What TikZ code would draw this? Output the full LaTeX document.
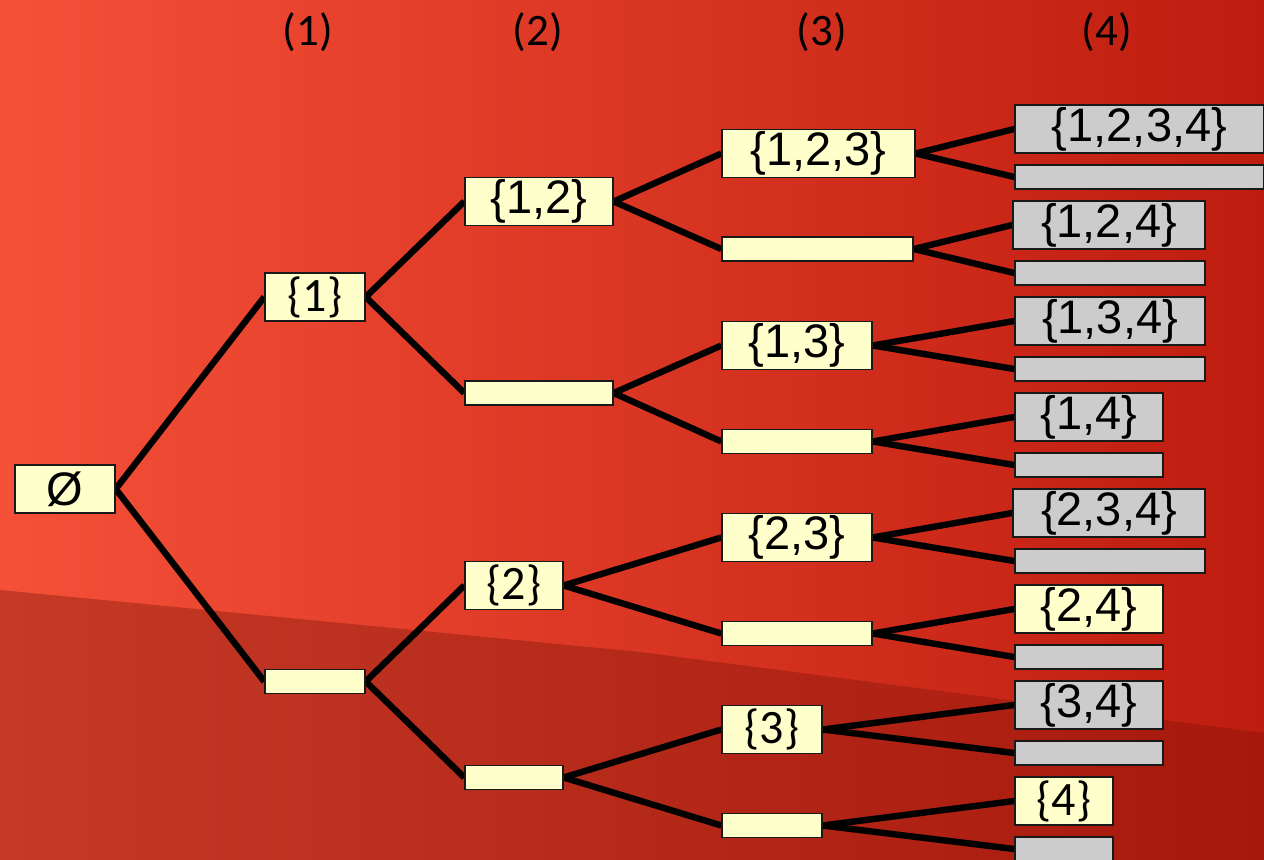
\documentclass[tikz,border=0pt]{standalone}
\usepackage{fontspec}
\setmainfont{Liberation Sans}
\newfontfamily\carlfont{Carlito}
\usetikzlibrary{backgrounds}
\definecolor{bgL}{RGB}{245,80,56}
\definecolor{bgM}{RGB}{228,62,40}
\definecolor{bgR}{RGB}{190,28,15}
\definecolor{bandL}{RGB}{196,58,38}
\definecolor{bandR}{RGB}{166,24,12}
\definecolor{yelc}{RGB}{255,255,204}
\definecolor{gryc}{RGB}{204,204,204}
\definecolor{boxline}{RGB}{25,25,25}
\begin{document}
\begin{tikzpicture}[x=0.5pt,y=-0.5pt,
  box/.style={draw=boxline, line width=0.7pt, inner sep=0pt, minimum height=24pt,
    font=\fontsize{23.5}{28}\selectfont, text=black},
  yel/.style={box, fill=yelc},
  gry/.style={box, fill=gryc},
  slim/.style={minimum height=12pt},
  cb/.style={font=\carlfont\fontsize{24}{28}\selectfont},
  link/.style={line width=3.2pt, draw=black},
  head/.style={font=\carlfont\fontsize{22.5}{27}\selectfont, text=black}]
\useasboundingbox (0,0) rectangle (1264,860);
\clip (0,0) rectangle (1264,860);

% headings
\node[head] (h1) at (308,32) {(1)};
\node[head] (h2) at (538,32) {(2)};
\node[head] (h3) at (822,32) {(3)};
\node[head] (h4) at (1107,32) {(4)};

% level 0
\node[yel, minimum width=50pt] (e) at (65,489) {Ø};
% level 1
\node[yel, cb, minimum width=50pt] (n1) at (315,297) {\{1\}};
\node[yel, slim, minimum width=50pt] (n0) at (315,681.5) {};
% level 2
\node[yel, minimum width=74pt] (n12) at (539,201.5) {\{1,2\}};
\node[yel, slim, minimum width=74pt] (n1x) at (539,393) {};
\node[yel, cb, minimum width=49pt] (n2) at (514,585.5) {\{2\}};
\node[yel, slim, minimum width=49pt] (n0x) at (514,777.5) {};
% level 3
\node[yel, minimum width=96.5pt] (n123) at (818.5,153.5) {\{1,2,3\}};
\node[yel, slim, minimum width=95.5pt] (n12x) at (817.5,249) {};
\node[yel, minimum width=75pt] (n13) at (797,345.5) {\{1,3\}};
\node[yel, slim, minimum width=75pt] (n1xx) at (797,441.5) {};
\node[yel, minimum width=75pt] (n23) at (797,537.5) {\{2,3\}};
\node[yel, slim, minimum width=75pt] (n2x) at (797,633.5) {};
\node[yel, cb, minimum width=50pt] (n3) at (772,729.5) {\{3\}};
\node[yel, slim, minimum width=50pt] (n0xx) at (772,825.5) {};
% level 4
\node[gry, minimum width=124.5pt] (a1) at (1139.5,129) {\{1,2,3,4\}};
\node[gry, slim, minimum width=124.5pt] (a2) at (1139.5,177) {};
\node[gry, minimum width=96pt] (a3) at (1109,225) {\{1,2,4\}};
\node[gry, slim, minimum width=95pt] (a4) at (1110,273) {};
\node[gry, minimum width=95pt] (a5) at (1110,321) {\{1,3,4\}};
\node[gry, slim, minimum width=95pt] (a6) at (1110,369) {};
\node[gry, minimum width=74pt] (a7) at (1089,417) {\{1,4\}};
\node[gry, slim, minimum width=74pt] (a8) at (1089,465) {};
\node[gry, minimum width=96pt] (a9) at (1109,513) {\{2,3,4\}};
\node[gry, slim, minimum width=95pt] (a10) at (1110,561) {};
\node[yel, minimum width=74pt] (a11) at (1089,609) {\{2,4\}};
\node[gry, slim, minimum width=74pt] (a12) at (1089,657) {};
\node[gry, minimum width=74pt] (a13) at (1089,705) {\{3,4\}};
\node[gry, slim, minimum width=74pt] (a14) at (1089,753) {};
\node[yel, cb, minimum width=49pt] (a15) at (1064,801) {\{4\}};
\node[gry, slim, minimum width=49pt] (a16) at (1064,849) {};

\begin{scope}[on background layer]
  \shade[left color=bgL, middle color=bgM, right color=bgR] (0,0) rectangle (1264,860);
  \shade[left color=bandL, right color=bandR] (0,590) -- (640,652) -- (1264,733) -- (1264,860) -- (0,860) -- cycle;
  % connectors
  \draw[link] (e.east) -- (n1.west);
  \draw[link] (e.east) -- (n0.west);
  \draw[link] (n1.east) -- (n12.west);
  \draw[link] (n1.east) -- (n1x.west);
  \draw[link] (n0.east) -- (n2.west);
  \draw[link] (n0.east) -- (n0x.west);
  \draw[link] (n12.east) -- (n123.west);
  \draw[link] (n12.east) -- (n12x.west);
  \draw[link] (n1x.east) -- (n13.west);
  \draw[link] (n1x.east) -- (n1xx.west);
  \draw[link] (n2.east) -- (n23.west);
  \draw[link] (n2.east) -- (n2x.west);
  \draw[link] (n0x.east) -- (n3.west);
  \draw[link] (n0x.east) -- (n0xx.west);
  \draw[link] (n123.east) -- (a1.west);
  \draw[link] (n123.east) -- (a2.west);
  \draw[link] (n12x.east) -- (a3.west);
  \draw[link] (n12x.east) -- (a4.west);
  \draw[link] (n13.east) -- (a5.west);
  \draw[link] (n13.east) -- (a6.west);
  \draw[link] (n1xx.east) -- (a7.west);
  \draw[link] (n1xx.east) -- (a8.west);
  \draw[link] (n23.east) -- (a9.west);
  \draw[link] (n23.east) -- (a10.west);
  \draw[link] (n2x.east) -- (a11.west);
  \draw[link] (n2x.east) -- (a12.west);
  \draw[link] (n3.east) -- (a13.west);
  \draw[link] (n3.east) -- (a14.west);
  \draw[link] (n0xx.east) -- (a15.west);
  \draw[link] (n0xx.east) -- (a16.west);
\end{scope}
\end{tikzpicture}
\end{document}
